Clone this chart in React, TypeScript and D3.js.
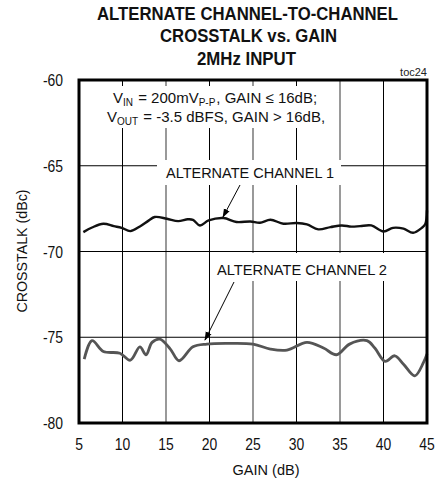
import * as d3 from 'd3'

const gainTicks = [5, 10, 15, 20, 25, 30, 35, 40, 45]
const crosstalkTicks = [-60, -65, -70, -75, -80]
const greyGainLines = [15, 25, 35]

// ALTERNATE CHANNEL 1
const ch1Gain = [5.5, 6.5, 7.8, 9.0, 9.9, 10.9, 12.0, 13.0, 13.7, 15.1, 16.4, 17.5, 18.1, 18.9, 19.9, 21.6, 23.1, 24.7, 25.8, 27.0, 28.5, 30.0, 31.2, 32.5, 33.9, 35.2, 36.3, 37.3, 38.6, 40.0, 41.1, 42.3, 43.4, 44.4, 44.8, 45.0]
const ch1Db = [-68.87, -68.6, -68.38, -68.52, -68.62, -68.81, -68.54, -68.2, -67.99, -68.09, -68.23, -68.12, -68.15, -68.48, -68.19, -68.05, -68.28, -68.25, -68.32, -68.15, -68.38, -68.34, -68.42, -68.71, -68.58, -68.48, -68.55, -68.52, -68.48, -68.83, -68.62, -68.67, -68.91, -68.62, -68.4, -67.6]

// ALTERNATE CHANNEL 2
const ch2Gain = [5.6, 6.5, 7.8, 9.7, 10.9, 12.0, 12.7, 13.4, 14.3, 15.5, 16.5, 18.1, 19.7, 22.0, 25.0, 27.0, 28.9, 31.2, 33.1, 34.6, 36.1, 38.1, 39.0, 40.2, 41.3, 42.3, 43.6, 44.6, 45.0]
const ch2Db = [-76.28, -75.2, -75.83, -75.93, -76.34, -75.56, -76.02, -75.3, -75.11, -75.69, -76.37, -75.56, -75.4, -75.36, -75.4, -75.69, -75.75, -75.3, -75.63, -76.02, -75.4, -75.2, -75.63, -76.41, -76.08, -76.57, -77.25, -76.47, -75.98]

const W = 437
const H = 484
const margin = { top: 80, right: 10, bottom: 61, left: 79 }
const font = "'Liberation Sans', Arial, sans-serif"
// the original type is a narrow sans, squeeze it a bit
const narrow = 0.87

export default function App() {
  const x = d3.scaleLinear().domain([5, 45]).range([margin.left, W - margin.right])
  const y = d3.scaleLinear().domain([-80, -60]).range([H - margin.bottom, margin.top])

  const line = d3
    .line<[number, number]>()
    .x((d) => x(d[0]))
    .y((d) => y(d[1]))
    .curve(d3.curveCatmullRom.alpha(0.5))

  const ch1 = line(ch1Gain.map((g, i) => [g, ch1Db[i]]))
  const ch2 = line(ch2Gain.map((g, i) => [g, ch2Db[i]]))

  const x0 = x(5)
  const x1 = x(45)
  const y0 = y(-60)
  const y1 = y(-80)

  return (
    <svg width={W} height={H} style={{ position: 'absolute', left: 0, top: 0, background: '#fff' }} fontFamily={font}>
      <defs>
        <marker id="arr" viewBox="0 0 10 10" refX="9" refY="5" markerWidth="9" markerHeight="9" orient="auto-start-reverse" markerUnits="userSpaceOnUse">
          <path d="M0,1.5 L10,5 L0,8.5 z" fill="#000" />
        </marker>
      </defs>

      {/* title */}
      <g fontWeight="bold" fontSize={18} textAnchor="middle" fill="#111">
        <text x={247.5} y={20} textLength={301} lengthAdjust="spacingAndGlyphs">ALTERNATE CHANNEL-TO-CHANNEL</text>
        <text x={248.5} y={42} textLength={177} lengthAdjust="spacingAndGlyphs">CROSSTALK vs. GAIN</text>
        <text x={246.5} y={64.5} textLength={99} lengthAdjust="spacingAndGlyphs">2MHz INPUT</text>
      </g>
      <text x={x1} y={76} fontSize={11} textAnchor="end" fill="#222">toc24</text>

      {/* grid */}
      {gainTicks.slice(1, -1).map((g) => (
        <line key={'v' + g} x1={x(g)} x2={x(g)} y1={y0} y2={y1}
          stroke={greyGainLines.includes(g) ? '#808080' : '#000'}
          strokeWidth={greyGainLines.includes(g) ? 1.6 : 1} />
      ))}
      {crosstalkTicks.slice(1, -1).map((v) => (
        <line key={'h' + v} x1={x0} x2={x1} y1={y(v)} y2={y(v)} stroke="#000" strokeWidth={1} />
      ))}

      {/* white boxes behind annotations */}
      <rect x={104} y={86} width={219} height={42} fill="#fff" />
      <rect x={157} y={160} width={184} height={25} fill="#fff" />
      <rect x={210} y={253} width={184} height={28} fill="#fff" />

      {/* curves */}
      <path d={ch1 ?? ''} fill="none" stroke="#111" strokeWidth={2.4} strokeLinejoin="round" />
      <path d={ch2 ?? ''} fill="none" stroke="#555" strokeWidth={2.8} strokeLinejoin="round" />

      {/* frame */}
      <rect x={x0} y={y0} width={x1 - x0} height={y1 - y0} fill="none" stroke="#000" strokeWidth={3} />

      {/* annotations */}
      <g fontSize={15} fill="#111">
        <text x={113} y={103}>
          V<tspan fontSize={10} dy={3}>IN</tspan>
          <tspan dy={-3} dx={1}> = 200mV</tspan>
          <tspan fontSize={10} dy={3}>P-P</tspan>
          <tspan dy={-3} dx={1}>, GAIN ≤ 16dB;</tspan>
        </text>
        <text x={107} y={122}>
          V<tspan fontSize={10} dy={3}>OUT</tspan>
          <tspan dy={-3} dx={1}> = -3.5 dBFS, GAIN &gt; 16dB,</tspan>
        </text>
      </g>
      <g fontSize={15.5} fill="#111">
        <text x={166} y={178} textLength={168} lengthAdjust="spacingAndGlyphs">ALTERNATE CHANNEL 1</text>
        <text x={217} y={275} textLength={170} lengthAdjust="spacingAndGlyphs">ALTERNATE CHANNEL 2</text>
      </g>
      <line x1={240} y1={185} x2={223} y2={217} stroke="#000" strokeWidth={1} markerEnd="url(#arr)" />
      <line x1={234} y1={282} x2={205} y2={340} stroke="#000" strokeWidth={1} markerEnd="url(#arr)" />

      {/* axes labels */}
      <g fontSize={16} fill="#111">
        {crosstalkTicks.map((v) => (
          <text key={'yl' + v} transform={`translate(63,${y(v) + 6}) scale(${narrow},1)`} textAnchor="end">{v}</text>
        ))}
        {gainTicks.map((g) => (
          <text key={'xl' + g} transform={`translate(${x(g)},450) scale(${narrow},1)`} textAnchor="middle">{g}</text>
        ))}
      </g>
      <text x={266} y={475} fontSize={15} textAnchor="middle" fill="#111" textLength={67} lengthAdjust="spacingAndGlyphs">GAIN (dB)</text>
      <text transform={`translate(27,251) rotate(-90)`} fontSize={15} textAnchor="middle" fill="#111" textLength={123} lengthAdjust="spacingAndGlyphs">CROSSTALK (dBc)</text>
    </svg>
  )
}
